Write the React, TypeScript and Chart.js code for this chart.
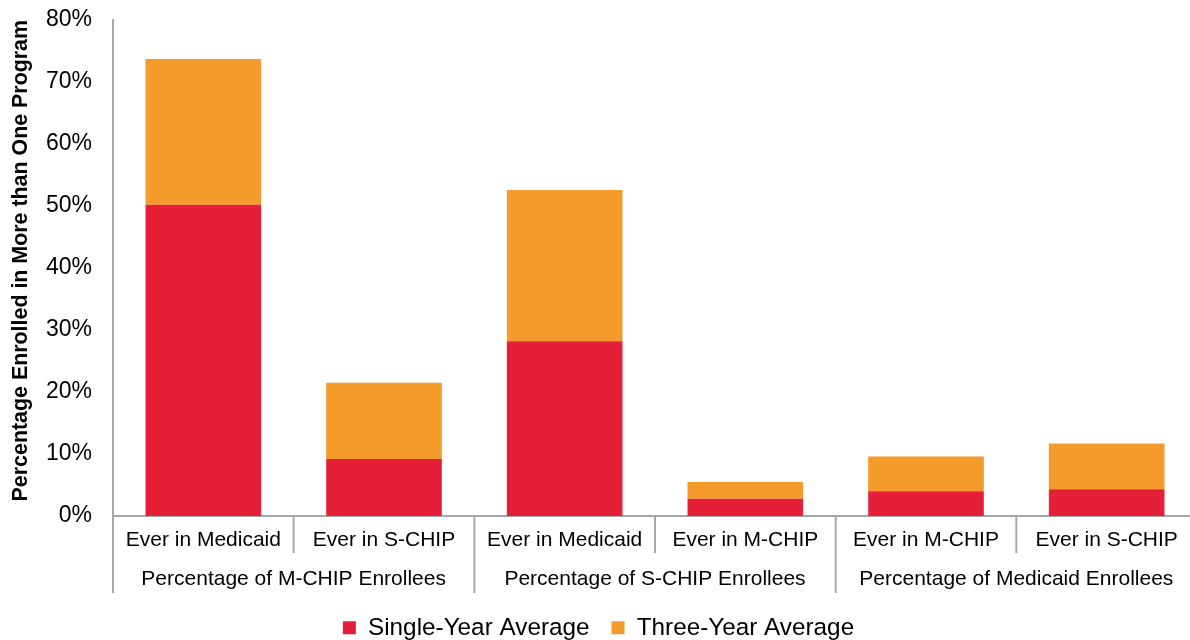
import React, { useEffect, useRef } from "react";
import { Chart, registerables } from "chart.js";

Chart.register(...registerables);

const categories = [
  "Ever in Medicaid",
  "Ever in S-CHIP",
  "Ever in Medicaid",
  "Ever in M-CHIP",
  "Ever in M-CHIP",
  "Ever in S-CHIP",
];
const groups = [
  "Percentage of M-CHIP Enrollees",
  "Percentage of S-CHIP Enrollees",
  "Percentage of Medicaid Enrollees",
];
const singleYear = [50.2, 9.2, 28.2, 2.8, 4.0, 4.3];
const threeYearExtra = [23.5, 12.3, 24.4, 2.7, 5.6, 7.4];
const yTicks = [0, 10, 20, 30, 40, 50, 60, 70, 80];

const GRAY = "#a6a6a6";
const FONT = "'Liberation Sans', Arial, sans-serif";

const separators = {
  id: "separators",
  afterDraw(chart: any) {
    const { ctx } = chart;
    const xs = chart.scales.x;
    const ys = chart.scales.y;
    const n = categories.length;
    const step = (xs.right - xs.left) / n;
    ctx.save();
    ctx.strokeStyle = GRAY;
    ctx.lineWidth = 2;
    for (let i = 0; i <= n; i++) {
      const px = xs.left + i * step;
      const isGroup = i % 2 === 0;
      const yTop = i === 0 ? ys.top - 1 : xs.top;
      const yBot = isGroup ? xs.bottom + 40 : xs.bottom;
      ctx.beginPath();
      ctx.moveTo(px, yTop);
      ctx.lineTo(px, yBot);
      ctx.stroke();
    }
    ctx.restore();
  },
};

export default function App() {
  const ref = useRef<HTMLCanvasElement | null>(null);
  useEffect(() => {
    if (!ref.current) return;
    Chart.defaults.font.family = FONT;
    const chart = new Chart(ref.current, {
      type: "bar",
      data: {
        labels: categories,
        datasets: [
          {
            label: "Single-Year Average",
            data: singleYear,
            backgroundColor: "#e41f37",
            categoryPercentage: 1,
            barPercentage: 0.64,
          },
          {
            label: "Three-Year Average",
            data: threeYearExtra,
            backgroundColor: "#f49b2b",
            categoryPercentage: 1,
            barPercentage: 0.64,
          },
        ],
      },
      options: {
        responsive: false,
        animation: false,
        layout: { padding: { top: 20, right: 13, left: 0, bottom: -10 } },
        plugins: {
          legend: {
            position: "bottom",
            labels: {
              boxWidth: 13,
              boxHeight: 13,
              padding: 22,
              color: "#000",
              font: { size: 24.3, family: FONT },
            },
          },
          tooltip: { enabled: false },
        },
        scales: {
          x: {
            stacked: true,
            position: "bottom",
            grid: { display: false, drawTicks: false },
            border: { display: true, color: GRAY, width: 2 },
            ticks: {
              color: "#000",
              font: { size: 21, family: FONT },
              padding: 12,
              autoSkip: false,
              maxRotation: 0,
            },
            afterFit(s: any) {
              s.height = 37;
            },
          },
          x2: {
            type: "category",
            labels: groups,
            position: "bottom",
            offset: true,
            grid: { display: false, drawTicks: false },
            border: { display: false },
            ticks: {
              color: "#000",
              font: { size: 21, family: FONT },
              padding: 14,
              autoSkip: false,
              maxRotation: 0,
            },
            afterFit(s: any) {
              s.height = 40.7;
            },
          },
          y: {
            stacked: true,
            min: 0,
            max: 80,
            grid: { display: false, drawTicks: false },
            border: { display: true, color: GRAY, width: 2 },
            afterBuildTicks(s: any) {
              s.ticks = yTicks.map((v) => ({ value: v }));
            },
            ticks: {
              color: "#000",
              font: { size: 23, family: FONT },
              padding: 21,
              callback: (v: any) => v + "%",
            },
            title: {
              display: true,
              text: "Percentage Enrolled in More than One Program",
              color: "#000",
              align: "end",
              font: { size: 21.4, weight: "bold", family: FONT },
              padding: { top: 8, bottom: 0 },
            },
            afterFit(s: any) {
              s.width = 113;
              s.paddingTop = 0;
              s.paddingBottom = 0;
            },
          },
        },
      },
      plugins: [separators],
    });
    return () => chart.destroy();
  }, []);
  return (
    <div
      style={{
        position: "absolute",
        left: 0,
        top: 0,
        width: 1190,
        height: 640,
        overflow: "hidden",
        background: "#fff",
      }}
    >
      <canvas ref={ref} width={1210} height={640} style={{ display: "block" }} />
    </div>
  );
}
